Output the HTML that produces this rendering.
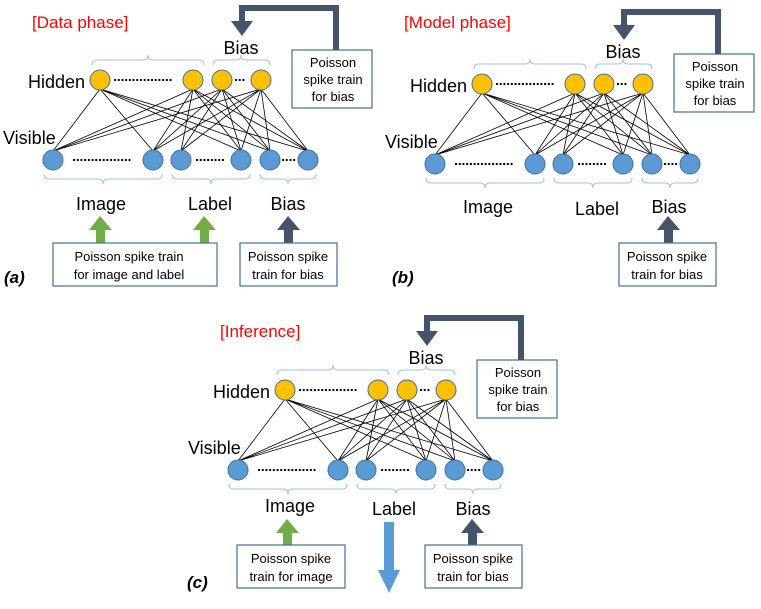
<!DOCTYPE html>
<html><head><meta charset="utf-8"><style>
html,body{margin:0;padding:0;background:#fff}
svg{display:block}
text{font-family:"Liberation Sans",sans-serif;fill:#000}
</style></head><body>
<svg width="761" height="609" viewBox="0 0 761 609" xmlns="http://www.w3.org/2000/svg">
<defs>
<g id="net">
  <g stroke="#000" stroke-width="0.8">
    <line x1="100" y1="89" x2="53" y2="151"/><line x1="100" y1="89" x2="153" y2="151"/><line x1="100" y1="89" x2="241" y2="151"/><line x1="100" y1="89" x2="270" y2="151"/><line x1="100" y1="89" x2="308" y2="151"/>
    <line x1="193" y1="89" x2="53" y2="151"/><line x1="193" y1="89" x2="153" y2="151"/><line x1="193" y1="89" x2="181" y2="151"/><line x1="193" y1="89" x2="241" y2="151"/><line x1="193" y1="89" x2="270" y2="151"/><line x1="193" y1="89" x2="308" y2="151"/>
    <line x1="222" y1="89" x2="53" y2="151"/><line x1="222" y1="89" x2="153" y2="151"/><line x1="222" y1="89" x2="181" y2="151"/><line x1="222" y1="89" x2="241" y2="151"/><line x1="222" y1="89" x2="270" y2="151"/><line x1="222" y1="89" x2="308" y2="151"/>
    <line x1="261" y1="89" x2="53" y2="151"/><line x1="261" y1="89" x2="153" y2="151"/><line x1="261" y1="89" x2="181" y2="151"/><line x1="261" y1="89" x2="241" y2="151"/><line x1="261" y1="89" x2="270" y2="151"/><line x1="261" y1="89" x2="308" y2="151"/>
  </g>
  <g fill="#ffc000" stroke="#41719c" stroke-width="1">
    <circle cx="100" cy="80" r="10"/><circle cx="193" cy="80" r="10"/><circle cx="222" cy="80" r="10"/><circle cx="261" cy="80" r="10"/>
  </g>
  <g fill="#5b9bd5" stroke="#41719c" stroke-width="1">
    <circle cx="53" cy="160" r="10"/><circle cx="153" cy="160" r="10"/><circle cx="181" cy="160" r="10"/><circle cx="241" cy="160" r="10"/><circle cx="270" cy="160" r="10"/><circle cx="308" cy="160" r="10"/>
  </g>
  <g stroke="#000" stroke-width="2.2" stroke-linecap="round" stroke-dasharray="0.1,3.6">
    <line x1="115" y1="80" x2="173" y2="80"/><line x1="236" y1="80" x2="247" y2="80"/>
    <line x1="74" y1="160" x2="131" y2="160"/><line x1="197" y1="160" x2="225" y2="160"/><line x1="283" y1="160" x2="295" y2="160"/>
  </g>
  <g fill="none" stroke="#9dc3e6" stroke-width="1">
    <path d="M92 65 Q92 60 97 60 L143 60 Q148 60 148 55 Q148 60 153 60 L199 60 Q204 60 204 65"/>
    <path d="M213 65 Q213 60 218 60 L236 60 Q241 60 241 55 Q241 60 246 60 L265 60 Q270 60 270 65"/>
    <path d="M44 174 Q44 179 49 179 L98 179 Q103 179 103 184 Q103 179 108 179 L157 179 Q162 179 162 174"/>
    <path d="M172 174 Q172 179 177 179 L206 179 Q211 179 211 184 Q211 179 216 179 L245 179 Q250 179 250 174"/>
    <path d="M260 174 Q260 179 265 179 L283 179 Q288 179 288 184 Q288 179 293 179 L311 179 Q316 179 316 174"/>
  </g>
  <text x="85" y="88" font-size="18" text-anchor="end">Hidden</text>
  <text x="3" y="144" font-size="18">Visible</text>
  <text x="241" y="54" font-size="18" text-anchor="middle">Bias</text>
  <rect x="292" y="50" width="80" height="58" fill="#fff" stroke="#41719c" stroke-width="1.2"/>
  <text font-size="13" text-anchor="middle"><tspan x="333" y="67">Poisson</tspan><tspan x="333" y="84">spike train</tspan><tspan x="333" y="101">for bias</tspan></text>
  <path d="M336 50 L336 8 L242 8 L242 22" fill="none" stroke="#44546a" stroke-width="6"/>
  <polygon points="231,21 253,21 242,36" fill="#44546a"/>
</g>
</defs>

<!-- (a) -->
<text x="32" y="28" font-size="17" style="fill:#ff0000">[Data phase]</text>
<use href="#net"/>
<text x="101" y="210" font-size="18" text-anchor="middle">Image</text>
<text x="210" y="210" font-size="18" text-anchor="middle">Label</text>
<text x="288" y="210" font-size="18" text-anchor="middle">Bias</text>
<rect x="96" y="228" width="9" height="16" fill="#70ad47"/><polygon points="89,230 112,230 100,216" fill="#70ad47"/>
<rect x="200" y="228" width="9" height="16" fill="#70ad47"/><polygon points="193,230 216,230 204,216" fill="#70ad47"/>
<rect x="284" y="228" width="9" height="16" fill="#44546a"/><polygon points="277,230 300,230 288,216" fill="#44546a"/>
<rect x="53" y="243" width="164" height="43" fill="#fff" stroke="#41719c" stroke-width="1.2"/>
<text font-size="13" text-anchor="middle"><tspan x="129" y="261">Poisson spike train</tspan><tspan x="129" y="279">for image and label</tspan></text>
<rect x="240" y="243" width="97" height="43" fill="#fff" stroke="#41719c" stroke-width="1.2"/>
<text font-size="13" text-anchor="middle"><tspan x="288" y="261">Poisson spike</tspan><tspan x="288" y="279">train for bias</tspan></text>
<text x="4" y="283" font-size="17" font-weight="bold" font-style="italic">(a)</text>

<!-- (b) -->
<text x="404" y="28" font-size="17" style="fill:#ff0000">[Model phase]</text>
<use href="#net" transform="translate(382,4)"/>
<text x="488" y="213" font-size="18" text-anchor="middle">Image</text>
<text x="597" y="215" font-size="18" text-anchor="middle">Label</text>
<text x="669" y="213" font-size="18" text-anchor="middle">Bias</text>
<rect x="664" y="228" width="9" height="16" fill="#44546a"/><polygon points="657,230 680,230 668,216" fill="#44546a"/>
<rect x="619" y="243" width="97" height="43" fill="#fff" stroke="#41719c" stroke-width="1.2"/>
<text font-size="13" text-anchor="middle"><tspan x="667" y="261">Poisson spike</tspan><tspan x="667" y="279">train for bias</tspan></text>
<text x="392" y="283" font-size="17" font-weight="bold" font-style="italic">(b)</text>

<!-- (c) -->
<text x="220" y="337" font-size="17" style="fill:#ff0000">[Inference]</text>
<use href="#net" transform="translate(185,310)"/>
<text x="290" y="512" font-size="18" text-anchor="middle">Image</text>
<text x="394" y="515" font-size="18" text-anchor="middle">Label</text>
<text x="473" y="515" font-size="18" text-anchor="middle">Bias</text>
<rect x="283" y="531" width="9" height="15" fill="#70ad47"/><polygon points="276,533 299,533 287,519" fill="#70ad47"/>
<rect x="237" y="545" width="108" height="43" fill="#fff" stroke="#41719c" stroke-width="1.2"/>
<text font-size="13" text-anchor="middle"><tspan x="291" y="563">Poisson spike</tspan><tspan x="291" y="581">train for image</tspan></text>
<rect x="384" y="522" width="10" height="50" fill="#5b9bd5"/><polygon points="378,570 400,570 389,593" fill="#5b9bd5"/>
<rect x="468" y="531" width="9" height="15" fill="#44546a"/><polygon points="461,533 484,533 472,519" fill="#44546a"/>
<rect x="425" y="545" width="97" height="43" fill="#fff" stroke="#41719c" stroke-width="1.2"/>
<text font-size="13" text-anchor="middle"><tspan x="473" y="563">Poisson spike</tspan><tspan x="473" y="581">train for bias</tspan></text>
<text x="187" y="588" font-size="17" font-weight="bold" font-style="italic">(c)</text>
</svg>
</body></html>
